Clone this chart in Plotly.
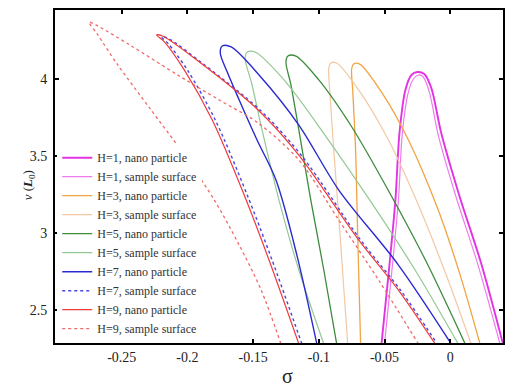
import plotly.graph_objects as go

# Frequency-response loops: amplitude v versus detuning sigma, for several H values
# Each loop runs from the bottom of the left branch, over the nose, down the right branch.

sig_h1_np = [-0.0523, -0.0470, -0.0417, -0.0386, -0.0341, -0.0295, -0.0250, -0.0197, -0.0144, -0.0068, 0.0068, 0.0235, 0.0402]
v_h1_np = [2.28, 2.727, 3.214, 3.649, 3.929, 4.026, 4.045, 4.032, 3.942, 3.649, 3.247, 2.805, 2.28]

sig_h1_ss = [-0.0500, -0.0447, -0.0394, -0.0364, -0.0318, -0.0280, -0.0242, -0.0205, -0.0159, -0.0091, 0.0045, 0.0212, 0.0379]
v_h1_ss = [2.28, 2.727, 3.214, 3.649, 3.916, 4.000, 4.026, 4.013, 3.916, 3.636, 3.234, 2.792, 2.28]

sig_h3_np = [-0.0682, -0.0705, -0.0720, -0.0742, -0.0750, -0.0735, -0.0689, -0.0508, -0.0318, -0.0091, 0.0076, 0.0227]
v_h3_np = [2.28, 3.019, 3.539, 3.929, 4.065, 4.097, 4.097, 3.896, 3.604, 3.149, 2.727, 2.28]

sig_h3_ss = [-0.0780, -0.0841, -0.0886, -0.0917, -0.0924, -0.0909, -0.0864, -0.0697, -0.0470, -0.0242, -0.0030, 0.0159]
v_h3_ss = [2.28, 3.019, 3.539, 3.929, 4.071, 4.104, 4.104, 3.929, 3.604, 3.182, 2.727, 2.28]

sig_h5_np = [-0.0864, -0.0962, -0.1061, -0.1152, -0.1212, -0.1250, -0.1235, -0.1174, -0.1000, -0.0750, -0.0460, -0.0180, 0.0114]
v_h5_np = [2.28, 2.760, 3.214, 3.669, 3.961, 4.110, 4.149, 4.149, 3.994, 3.690, 3.260, 2.810, 2.28]

sig_h5_ss = [-0.0962, -0.1152, -0.1303, -0.1432, -0.1508, -0.1561, -0.1545, -0.1485, -0.1265, -0.0940, -0.0570, -0.0260, 0.0061]
v_h5_ss = [2.28, 2.760, 3.214, 3.669, 3.961, 4.136, 4.175, 4.175, 3.994, 3.620, 3.160, 2.750, 2.28]

sig_h7_np = [-0.1015, -0.1167, -0.1326, -0.1470, -0.1606, -0.1697, -0.1750, -0.1735, -0.1667, -0.1455, -0.1152, -0.0848, -0.0394, 0.0008]
v_h7_np = [2.28, 2.857, 3.344, 3.604, 3.864, 4.045, 4.169, 4.214, 4.208, 4.026, 3.701, 3.279, 2.792, 2.28]

sig_h7_ss = [-0.1129, -0.1356, -0.1545, -0.1788, -0.2000, -0.2144, -0.2197, -0.2152, -0.1879, -0.1439, -0.1129, -0.0682, -0.0379, -0.0098]
v_h7_ss = [2.28, 2.825, 3.247, 3.734, 4.058, 4.227, 4.273, 4.266, 4.097, 3.792, 3.500, 2.955, 2.630, 2.28]

sig_h9_np = [-0.1152, -0.1379, -0.1568, -0.1811, -0.2023, -0.2174, -0.2235, -0.2189, -0.1909, -0.1462, -0.1152, -0.0697, -0.0394, -0.0114]
v_h9_np = [2.28, 2.825, 3.247, 3.734, 4.058, 4.240, 4.286, 4.279, 4.110, 3.799, 3.506, 2.955, 2.630, 2.28]

sig_h9_ss = [-0.1288, -0.1439, -0.1606, -0.1795, -0.2023, -0.2288, -0.2530, -0.2682, -0.2750, -0.2697, -0.2439, -0.2061, -0.1758, -0.1462, -0.1152, -0.0848, -0.0545, -0.0242]
v_h9_ss = [2.28, 2.630, 2.922, 3.214, 3.506, 3.812, 4.091, 4.286, 4.370, 4.351, 4.221, 4.019, 3.864, 3.714, 3.474, 3.084, 2.695, 2.28]

x_ticks = [-0.25, -0.2, -0.15, -0.1, -0.05, 0]
x_tick_text = ["-0.25", "-0.2", "-0.15", "-0.1", "-0.05", "0"]
y_ticks = [2.5, 3, 3.5, 4]
y_tick_text = ["2.5", "3", "3.5", "4"]

series = [
    ("H=1, nano particle", sig_h1_np, v_h1_np, "#e234e2", "solid", 1.9),
    ("H=1, sample surface", sig_h1_ss, v_h1_ss, "#f07af0", "solid", 1.2),
    ("H=3, nano particle", sig_h3_np, v_h3_np, "#f0a442", "solid", 1.3),
    ("H=3, sample surface", sig_h3_ss, v_h3_ss, "#f2c8a4", "solid", 1.2),
    ("H=5, nano particle", sig_h5_np, v_h5_np, "#3c8c3c", "solid", 1.3),
    ("H=5, sample surface", sig_h5_ss, v_h5_ss, "#94c894", "solid", 1.2),
    ("H=7, nano particle", sig_h7_np, v_h7_np, "#2a2ad2", "solid", 1.4),
    ("H=7, sample surface", sig_h7_ss, v_h7_ss, "#4646e6", "dot", 1.4),
    ("H=9, nano particle", sig_h9_np, v_h9_np, "#f03a3a", "solid", 1.2),
    ("H=9, sample surface", sig_h9_ss, v_h9_ss, "#f06a6a", "dot", 1.3),
]

fig = go.Figure()
for name, xs, ys, color, dash, width in series:
    fig.add_trace(go.Scatter(
        x=xs, y=ys, mode="lines", name=name,
        line=dict(color=color, dash=dash, width=width, shape="spline", smoothing=0.9),
    ))

serif = "Liberation Serif, Times New Roman, serif"
axis_common = dict(
    showline=True, linecolor="black", linewidth=2, mirror="allticks",
    ticks="inside", ticklen=4, tickwidth=1.5, tickcolor="black",
    showgrid=False, zeroline=False,
    tickfont=dict(family=serif, size=14, color="#222"),
)

fig.update_layout(
    width=509, height=386,
    margin=dict(l=55, r=4, t=10, b=43),
    paper_bgcolor="white", plot_bgcolor="white",
    showlegend=True,
    legend=dict(
        x=0.005, y=0.60, xanchor="left", yanchor="top",
        bgcolor="rgba(255,255,255,1)", borderwidth=0,
        font=dict(family=serif, size=12, color="#333"),
        itemwidth=30, tracegroupgap=0,
    ),
    xaxis=dict(range=[-0.3008, 0.0402], tickvals=x_ticks, ticktext=x_tick_text, **axis_common),
    yaxis=dict(range=[2.286, 4.448], tickvals=y_ticks, ticktext=y_tick_text, ticklabelstandoff=3, **axis_common),
    annotations=[
        dict(text="σ", x=0.518, y=-0.1, xref="paper", yref="paper",
             xanchor="center", yanchor="middle", showarrow=False,
             font=dict(family=serif, size=20, color="#222")),
        dict(text="<i>v</i> (<i><b>L</b></i><sub>0</sub>)", x=-0.06, y=0.474, xref="paper", yref="paper",
             xanchor="center", yanchor="middle", showarrow=False, textangle=-90,
             font=dict(family=serif, size=13, color="#222")),
    ],
)

fig.write_html("out.html")
